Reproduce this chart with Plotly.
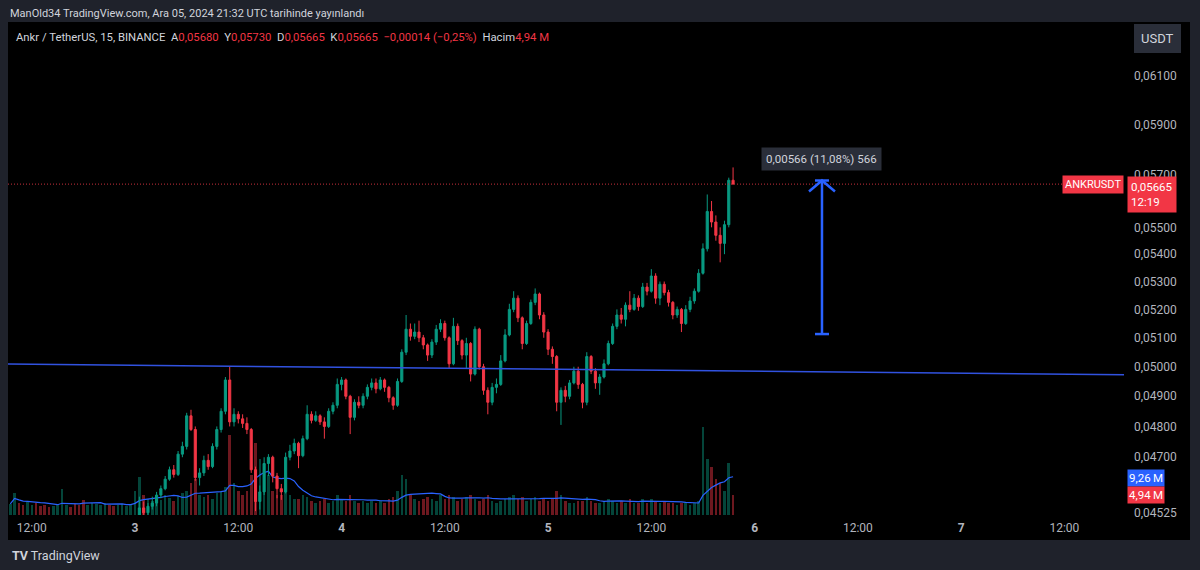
import math
import pandas as pd
import plotly.graph_objects as go

# ---------------- data (prices in 1e-5 USDT, 30-minute bars) ----------------
bar_start = "2024-12-02 09:30"
bar_minutes = 30
first_open_e5 = 4455

close_e5 = [
    4460, 4470, 4455, 4450, 4462, 4475, 4468, 4458, 4450, 4445,
    4452, 4460, 4472, 4480, 4470, 4462, 4455, 4450, 4458, 4465,
    4470, 4478, 4485, 4475, 4468, 4472, 4480, 4490, 4498, 4505,
    4540, 4525, 4545, 4555, 4580, 4600, 4630, 4660, 4645, 4710,
    4735, 4835, 4790, 4635, 4650, 4690, 4670, 4735, 4790, 4850,
    4955, 4815, 4840, 4825, 4810, 4790, 4660, 4560, 4590, 4680,
    4700, 4640, 4600, 4590, 4700, 4720, 4745, 4705, 4760, 4840,
    4820, 4835, 4815, 4800, 4850, 4870, 4940, 4955, 4900, 4830,
    4880, 4870, 4900, 4930, 4945, 4925, 4955, 4930, 4895, 4870,
    4950, 5050, 5130, 5105, 5120, 5100, 5075, 5040, 5085, 5130,
    5150, 5100, 5010, 5140, 5090, 5040, 5080, 4975, 5130, 5000,
    4920, 4880, 4930, 4940, 5020, 5110, 5200, 5240, 5170, 5080,
    5150, 5225, 5255, 5180, 5120, 5060, 5035, 4880, 4920, 4900,
    4945, 4985, 4940, 4880, 5035, 4985, 4945, 4965, 5010, 5080,
    5140, 5180, 5165, 5215, 5200, 5240, 5210, 5280, 5265, 5320,
    5240, 5290, 5260, 5225, 5180, 5200, 5150, 5200, 5230, 5265,
    5330, 5420, 5560, 5520, 5470, 5440, 5510, 5680, 5665,
]
high_e5 = [
    4472, 4480, 4475, 4462, 4470, 4482, 4480, 4472, 4462, 4455,
    4460, 4468, 4485, 4490, 4485, 4475, 4468, 4460, 4465, 4472,
    4478, 4486, 4495, 4490, 4480, 4482, 4490, 4500, 4508, 4515,
    4575, 4560, 4555, 4575, 4590, 4610, 4640, 4670, 4675, 4720,
    4750, 4845, 4855, 4800, 4665, 4705, 4710, 4745, 4800, 4860,
    4965, 5000, 4860, 4850, 4840, 4830, 4795, 4670, 4610, 4700,
    4710, 4705, 4650, 4615, 4715, 4740, 4760, 4750, 4770, 4870,
    4850, 4850, 4840, 4830, 4860, 4880, 4960, 4965, 4960, 4905,
    4890, 4900, 4910, 4940, 4960, 4960, 4965, 4960, 4935, 4900,
    4960, 5060, 5180, 5150, 5150, 5160, 5110, 5080, 5095, 5145,
    5165, 5160, 5105, 5170, 5150, 5095, 5100, 5085, 5140, 5135,
    5010, 4930, 4945, 4960, 5040, 5130, 5220, 5265, 5250, 5175,
    5160, 5235, 5275, 5260, 5190, 5130, 5070, 5040, 4930, 4935,
    4955, 5000, 5000, 4945, 5050, 5040, 4995, 4975, 5025, 5090,
    5150, 5200, 5205, 5225, 5265, 5255, 5250, 5295, 5295, 5345,
    5330, 5300, 5300, 5270, 5230, 5210, 5205, 5215, 5245, 5275,
    5345, 5440, 5625, 5600, 5545, 5500, 5525, 5690, 5730,
]
low_e5 = [
    4448, 4455, 4448, 4440, 4445, 4458, 4460, 4450, 4442, 4436,
    4440, 4448, 4455, 4468, 4462, 4455, 4448, 4440, 4445, 4452,
    4460, 4465, 4472, 4468, 4460, 4462, 4468, 4475, 4485, 4490,
    4500, 4510, 4515, 4535, 4545, 4570, 4595, 4625, 4635, 4640,
    4700, 4725, 4785, 4625, 4610, 4640, 4660, 4665, 4725, 4780,
    4840, 4800, 4800, 4810, 4795, 4775, 4650, 4530, 4535, 4580,
    4640, 4620, 4570, 4565, 4585, 4690, 4710, 4665, 4700, 4755,
    4810, 4815, 4805, 4760, 4795, 4840, 4860, 4920, 4890, 4775,
    4820, 4860, 4860, 4890, 4920, 4910, 4920, 4915, 4880, 4855,
    4865, 4945, 5040, 5090, 5095, 5085, 5060, 5020, 5030, 5075,
    5120, 5090, 4995, 5005, 5075, 5025, 4995, 4950, 4970, 4990,
    4905, 4840, 4870, 4910, 4935, 5015, 5105, 5190, 5155, 5060,
    5075, 5145, 5215, 5165, 5100, 5040, 5010, 4850, 4805, 4880,
    4890, 4940, 4925, 4860, 4870, 4975, 4925, 4905, 4960, 5005,
    5075, 5130, 5150, 5140, 5190, 5195, 5195, 5205, 5250, 5260,
    5220, 5215, 5250, 5210, 5165, 5170, 5120, 5145, 5190, 5220,
    5260, 5325, 5410, 5500, 5450, 5370, 5400, 5500, 5665,
]
volume_m = [
    2.8, 5.5, 3.0, 2.6, 3.2, 2.4, 2.9, 2.2, 2.5, 2.0,
    2.3, 2.6, 6.5, 2.4, 2.1, 2.8, 2.5, 3.8, 2.6, 3.0,
    2.7, 2.4, 2.9, 2.6, 2.3, 2.5, 2.8, 2.2, 2.6, 6.0,
    9.5, 5.0, 4.0, 3.5, 4.5, 3.8, 5.0, 4.2, 3.5, 4.8,
    5.5, 6.0, 8.0, 9.0, 5.0, 4.5, 5.0, 4.0, 5.5, 6.0,
    7.0, 20.0, 8.0, 6.0, 5.0, 6.0, 10.0, 18.0, 14.0, 12.0,
    10.0, 6.0, 5.0, 5.0, 6.0, 5.0, 4.0, 4.0, 5.0, 4.5,
    3.5, 3.0, 3.5, 4.0, 3.0, 3.5, 5.0, 4.0, 3.5, 5.0,
    3.5, 3.0, 3.5, 3.0, 3.5, 3.0, 3.5, 3.0, 4.0, 4.5,
    6.0, 10.0, 9.0, 5.0, 4.0, 3.5, 4.0, 4.5, 4.0, 3.5,
    5.0, 4.0, 5.0, 4.5, 3.5, 4.0, 4.5, 5.0, 4.0, 3.5,
    4.0, 5.0, 3.5, 3.0, 3.5, 4.0, 4.5, 5.0, 4.0, 4.5,
    3.5, 4.0, 4.5, 3.5, 4.0, 3.5, 4.0, 6.0, 5.0, 3.5,
    3.0, 3.0, 3.5, 3.5, 4.5, 3.5, 3.0, 3.0, 3.5, 4.0,
    3.5, 3.0, 3.5, 3.0, 4.0, 3.0, 3.0, 4.0, 3.0, 4.0,
    3.5, 3.0, 3.5, 3.0, 3.0, 2.5, 3.0, 3.0, 2.5, 3.0,
    3.5, 22.0, 14.0, 12.0, 9.0, 8.0, 6.0, 13.0, 4.94,
]
vol_ma_length = 10

price_tick_values = [0.061, 0.059, 0.057, 0.055, 0.054, 0.053, 0.052, 0.051,
                     0.050, 0.049, 0.048, 0.047, 0.04525]
price_tick_text = ["0,06100", "0,05900", "0,05700", "0,05500", "0,05400", "0,05300",
                   "0,05200", "0,05100", "0,05000", "0,04900", "0,04800", "0,04700",
                   "0,04525"]
time_tick_values = ["2024-12-02 12:00", "2024-12-03 00:00", "2024-12-03 12:00",
                    "2024-12-04 00:00", "2024-12-04 12:00", "2024-12-05 00:00",
                    "2024-12-05 12:00", "2024-12-06 00:00", "2024-12-06 12:00",
                    "2024-12-07 00:00", "2024-12-07 12:00"]
time_tick_text = ["12:00", "<b>3</b>", "12:00", "<b>4</b>", "12:00", "<b>5</b>",
                  "12:00", "<b>6</b>", "12:00", "<b>7</b>", "12:00"]

x_view = ["2024-12-02 09:14", "2024-12-07 18:56"]
price_view = [0.04518, 0.06329]
volume_view = [0, 123]

trend_time = ["2024-12-02 09:14", "2024-12-07 18:56"]
trend_price = [0.05009, 0.04973]

measure_time = "2024-12-06 07:50"
measure_from = 0.05113
measure_to = 0.05679
measure_label = "0,00566 (11,08%) 566"

symbol = "ANKRUSDT"
last_price_text = "0,05665"
countdown = "12:19"
last_ohlc_text = ["0,05680", "0,05730", "0,05665", "0,05665"]
change_text = "\u22120,00014 (\u22120,25%)"
vol_ma_last = 9.26
vol_last = 4.94
header_text = "ManOld34 TradingView.com, Ara 05, 2024 21:32 UTC tarihinde yay\u0131nland\u0131"
title_text = "Ankr / TetherUS, 15, BINANCE"

# ---------------- derived ----------------
times = pd.date_range(bar_start, periods=len(close_e5), freq=f"{bar_minutes}min")
close = [v / 1e5 for v in close_e5]
high = [v / 1e5 for v in high_e5]
low = [v / 1e5 for v in low_e5]
open_ = [first_open_e5 / 1e5] + close[:-1]
last_price = close[-1]
vol_ma = pd.Series(volume_m).rolling(vol_ma_length, min_periods=1).mean()

UP = "#089981"
DOWN = "#f23645"
UP_V = "rgba(8,153,129,0.45)"
DOWN_V = "rgba(242,54,69,0.45)"
BLUE = "#2962ff"
vol_colors = [UP_V if c >= o else DOWN_V for o, c in zip(open_, close)]

W, H = 1200, 570
ML, MR, MT, MB = 8, 76, 22, 55
PW, PH = W - ML - MR, H - MT - MB


def px_x(p):
    return (p - ML) / PW


def px_y(p):
    return (H - MB - p) / PH


x0 = pd.Timestamp(x_view[0])
x1 = pd.Timestamp(x_view[1])
ms_per_px = (x1 - x0) / PW
logy_per_px = (math.log10(price_view[1]) - math.log10(price_view[0])) / PH

fig = go.Figure()

# volume (primary y, hidden)
fig.add_trace(go.Bar(x=times, y=volume_m, marker=dict(color=vol_colors, line=dict(width=0)),
                     width=bar_minutes * 60 * 1000 * 0.6, yaxis="y", hoverinfo="skip"))
fig.add_trace(go.Scatter(x=times, y=vol_ma, mode="lines", line=dict(color=BLUE, width=1.2),
                         yaxis="y", hoverinfo="skip"))

# price candles
fig.add_trace(go.Candlestick(
    x=times, open=open_, high=high, low=low, close=close, yaxis="y2",
    increasing=dict(line=dict(color=UP, width=1), fillcolor=UP),
    decreasing=dict(line=dict(color=DOWN, width=1), fillcolor=DOWN),
    whiskerwidth=0, hoverinfo="skip"))

# trend line
fig.add_trace(go.Scatter(x=trend_time, y=trend_price, mode="lines",
                         line=dict(color="#3152e0", width=1.5), yaxis="y2", hoverinfo="skip"))

# last price dotted line
fig.add_trace(go.Scatter(x=x_view, y=[last_price, last_price], mode="lines",
                         line=dict(color="#c8303c", width=1, dash="1px,2px"), yaxis="y2",
                         hoverinfo="skip"))

# measure arrow
mt = pd.Timestamp(measure_time)
cap = ms_per_px * 7
head_w = ms_per_px * 13
head_drop = 10 ** (-11 * logy_per_px)
arrow_x = [mt, mt, None, mt - cap, mt + cap, None, mt - cap, mt + cap, None,
           mt - head_w, mt, mt + head_w]
arrow_y = [measure_from, measure_to, None, measure_from, measure_from, None,
           measure_to, measure_to, None,
           measure_to * head_drop, measure_to, measure_to * head_drop]
fig.add_trace(go.Scatter(x=arrow_x, y=arrow_y, mode="lines", connectgaps=False,
                         line=dict(color=BLUE, width=2.5), yaxis="y2", hoverinfo="skip"))

FONT = "Roboto, Inter, sans-serif"
GRAY = "#b2b5be"
LIGHT = "#d1d4dc"

ann = []
ann.append(dict(xref="paper", yref="paper", x=px_x(8), y=px_y(13), xanchor="left", yanchor="middle",
                text=header_text, showarrow=False, font=dict(size=11, color=LIGHT)))
sp = "\u00a0\u00a0"
red = lambda s: f"<span style='color:{DOWN}'>{s}</span>"
legend = (f"{title_text}{sp}A{red(last_ohlc_text[0])}{sp}Y{red(last_ohlc_text[1])}{sp}"
          f"D{red(last_ohlc_text[2])}{sp}K{red(last_ohlc_text[3])}{sp}{red(change_text)}{sp}"
          f"Hacim{red(str(vol_last).replace('.', ',') + ' M')}")
ann.append(dict(xref="paper", yref="paper", x=px_x(14), y=px_y(37), xanchor="left", yanchor="middle",
                text=legend, showarrow=False, font=dict(size=11.3, color=LIGHT)))
ann.append(dict(xref="paper", yref="paper", x=px_x(1157), y=px_y(38), xanchor="center", yanchor="middle",
                text="USDT", showarrow=False, font=dict(size=13, color=LIGHT),
                bgcolor="#2a2e39", bordercolor="#2a2e39", borderpad=6))
ann.append(dict(xref="paper", yref="y2", x=1.0, y=math.log10(last_price), xanchor="right",
                yanchor="middle", text=symbol, showarrow=False, font=dict(size=11, color="white"),
                bgcolor=DOWN, borderpad=2))
ann.append(dict(xref="paper", yref="y2", x=px_x(1127), y=math.log10(last_price), xanchor="left",
                yanchor="top", yshift=8, text=f"{last_price_text}<br>{countdown}", align="left",
                showarrow=False, font=dict(size=11.5, color="white"), bgcolor=DOWN, borderpad=3))
ann.append(dict(xref="paper", yref="y", x=px_x(1127), y=vol_ma_last, xanchor="left", yanchor="middle",
                text=f"{str(vol_ma_last).replace('.', ',')}\u2009M", showarrow=False,
                font=dict(size=11.5, color="white"), bgcolor=BLUE, borderpad=1))
ann.append(dict(xref="paper", yref="y", x=px_x(1127), y=vol_last, xanchor="left", yanchor="middle",
                text=f"{str(vol_last).replace('.', ',')}\u2009M", showarrow=False,
                font=dict(size=11.5, color="white"), bgcolor=DOWN, borderpad=1))
ann.append(dict(xref="x", yref="y2", x=mt, y=math.log10(measure_to), xanchor="center", yanchor="bottom",
                yshift=10, text=measure_label, showarrow=False, font=dict(size=11.5, color=LIGHT),
                bgcolor="#2a2e39", borderpad=4))
ann.append(dict(xref="paper", yref="paper", x=px_x(10), y=px_y(555), xanchor="left", yanchor="middle",
                text="<b>TV</b> TradingView", showarrow=False, font=dict(size=12.5, color=LIGHT)))

shapes = [dict(type="rect", xref="paper", yref="paper", x0=px_x(8), x1=px_x(1190),
               y0=px_y(540), y1=px_y(22), fillcolor="#000000", line=dict(width=0), layer="below")]

fig.update_layout(
    width=W, height=H, margin=dict(l=ML, r=MR, t=MT, b=MB),
    paper_bgcolor="#1f222b", plot_bgcolor="#000000",
    font=dict(family=FONT, color=GRAY),
    showlegend=False, bargap=0,
    xaxis=dict(type="date", range=x_view, tickvals=time_tick_values, ticktext=time_tick_text,
               showgrid=False, zeroline=False, showline=False, ticks="", ticklabelstandoff=4,
               tickfont=dict(size=12, color=GRAY), rangeslider=dict(visible=False),
               fixedrange=True),
    yaxis=dict(range=volume_view, visible=False, fixedrange=True),
    yaxis2=dict(type="log", overlaying="y", side="right",
                range=[math.log10(price_view[0]), math.log10(price_view[1])],
                tickvals=price_tick_values, ticktext=price_tick_text, showgrid=False,
                zeroline=False, showline=False, ticks="", ticklabelstandoff=9,
                tickfont=dict(size=12, color=GRAY), fixedrange=True),
    annotations=ann, shapes=shapes,
)

fig.write_html("out.html", config={"displayModeBar": False},
               post_script="document.body.style.margin='0';document.body.style.overflow='hidden';")
